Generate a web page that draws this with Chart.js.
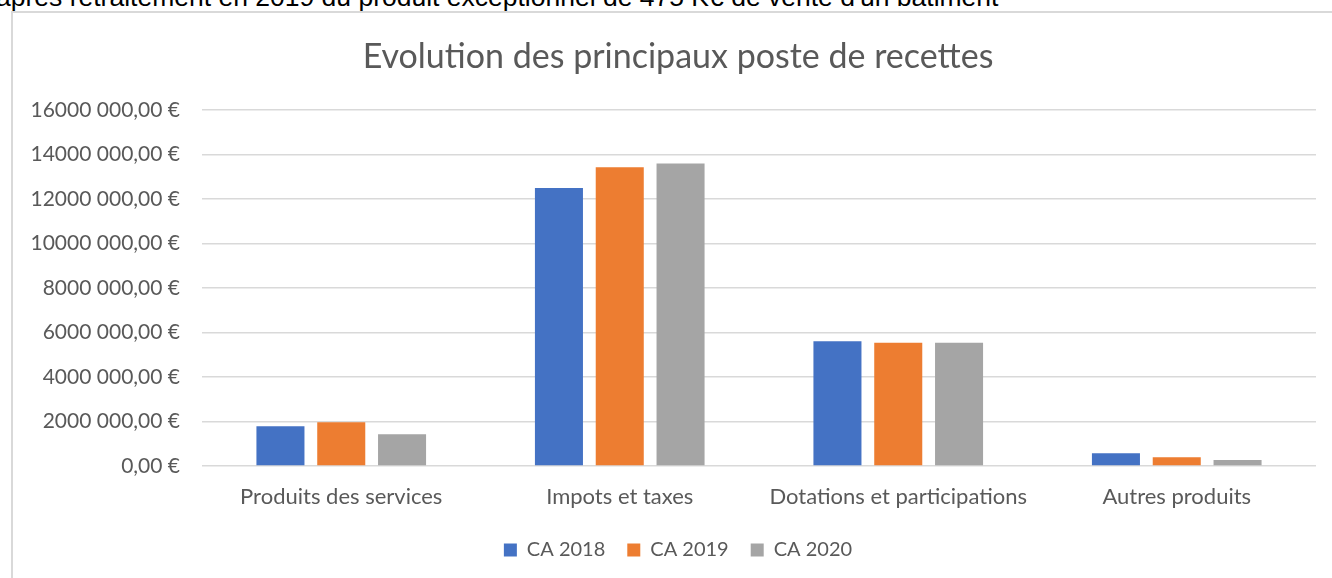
<!DOCTYPE html>
<html>
<head>
<meta charset="utf-8">
<script src="https://cdn.jsdelivr.net/npm/chart.js@4"></script>
<style>
    body { margin: 0; background: #fff; width: 1332px; height: 578px; overflow: hidden; position: relative; }
    #note { position: absolute; left: -4px; top: -18px; font: 26.5px "Liberation Sans", Arial, sans-serif; line-height: 30px; color: #000; white-space: nowrap; }
    #frame { position: absolute; left: 11px; top: 11px; width: 1400px; height: 600px; border: 2px solid #d9d9d9; }
    #wrap { position: absolute; left: 0; top: 0; width: 1332px; height: 578px; }
</style>
</head>
<body>
<div id="note">après retraitement en 2019 du produit exceptionnel de 475 K€ de vente d'un bâtiment</div>
<div id="frame"></div>
<div id="wrap"><canvas id="recettes"></canvas></div>
<script>
var categories = ["Produits des services", "Impots et taxes", "Dotations et participations", "Autres produits"];
var ca2018 = [1780000, 12490000, 5600000, 570000];
var ca2019 = [1960000, 13420000, 5540000, 390000];
var ca2020 = [1430000, 13590000, 5540000, 270000];

var textColor = '#595959';
var gridColor = '#d9d9d9';

// format Excel-like : 16000 000,00 €
function euro(v) {
    if (v < 1000) return v + ',00 €';
    var high = Math.floor(v / 1000);
    var low = String(v % 1000).padStart(3, '0');
    return high + ' ' + low + ',00 €';
}

var ctx = document.getElementById('recettes').getContext('2d');
var myChart = new Chart(ctx, {
    type: 'bar',
    data: {
        labels: categories,
        datasets: [{
            label: 'CA 2018',
            data: ca2018,
            backgroundColor: '#4472C4',
            borderWidth: 0
        }, {
            label: 'CA 2019',
            data: ca2019,
            backgroundColor: '#ED7D31',
            borderWidth: 0
        }, {
            label: 'CA 2020',
            data: ca2020,
            backgroundColor: '#A5A5A5',
            borderWidth: 0
        }]
    },
    options: {
        responsive: true,
        maintainAspectRatio: false,
        animation: false,
        layout: {
            padding: { left: 24, right: 0, top: 37, bottom: 8 }
        },
        datasets: {
            bar: { categoryPercentage: 0.655, barPercentage: 0.79 }
        },
        plugins: {
            title: {
                display: true,
                text: 'Evolution des principaux poste de recettes',
                color: textColor,
                font: { family: 'Lato', size: 34, weight: 'normal' },
                padding: { top: 0, bottom: 32 }
            },
            legend: {
                position: 'bottom',
                labels: {
                    color: textColor,
                    font: { family: 'Lato', size: 20 },
                    boxWidth: 13,
                    boxHeight: 13,
                    padding: 22
                }
            },
            tooltip: { enabled: false }
        },
        scales: {
            y: {
                min: 0,
                max: 16000000,
                border: { display: false },
                grid: { color: gridColor, lineWidth: 1.5, drawTicks: false },
                ticks: {
                    stepSize: 2000000,
                    color: textColor,
                    padding: 22,
                    font: { family: 'Lato', size: 21 },
                    callback: function (value) { return euro(value); }
                },
                afterFit: function (scale) { scale.width = 178; }
            },
            // axe vide à droite, juste pour garder le titre centré comme dans Excel
            yRight: {
                position: 'right',
                border: { display: false },
                grid: { display: false, drawTicks: false },
                ticks: { display: false },
                afterFit: function (scale) { scale.width = 16; }
            },
            x: {
                border: { display: false },
                grid: { display: false, drawTicks: false },
                ticks: {
                    color: textColor,
                    padding: 18,
                    font: { family: 'Lato', size: 22 }
                },
                afterFit: function (scale) { scale.height = 52; }
            }
        }
    }
});
</script>
</body>
</html>
